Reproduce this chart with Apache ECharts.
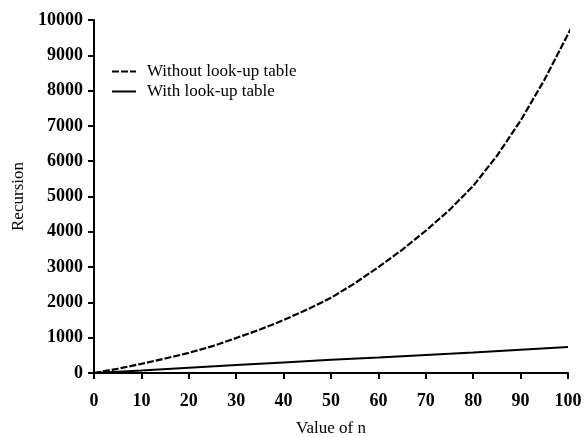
<!DOCTYPE html>
<html>
<head>
<meta charset="utf-8">
<script src="https://cdn.jsdelivr.net/npm/echarts@6/dist/echarts.min.js"></script>
<style>html,body{margin:0;padding:0;background:#fff}#c{width:587px;height:438px}</style>
</head>
<body>
<div id="c"></div>
<script>
var nWithout = [0, 5, 10, 15, 20, 25, 30, 35, 40, 45, 50, 55, 60, 65, 70, 75, 80, 85, 90, 95, 100, 102];
var valWithout = [0, 120, 260, 410, 570, 760, 990, 1230, 1500, 1800, 2130, 2540, 3000, 3490, 4030, 4620, 5300, 6150, 7150, 8300, 9600, 10100];
var nWith = [0, 10, 20, 30, 40, 50, 60, 70, 80, 90, 100];
var valWith = [0, 70, 150, 225, 300, 375, 440, 510, 580, 660, 737];
var seriesNames = ['Without look-up table', 'With look-up table'];
var xTitle = 'Value of n';
var yTitle = 'Recursion';

function pairs(xs, ys) { return xs.map(function (x, i) { return [x, ys[i]]; }); }

var font = 'Liberation Serif';
var chart = echarts.init(document.getElementById('c'));
chart.setOption({
  animation: false,
  backgroundColor: '#fff',
  grid: { left: 94, right: 19, top: 20, bottom: 65, containLabel: false, outerBoundsMode: 'none' },
  legend: {
    left: 106, top: 58, orient: 'vertical', itemWidth: 24, itemHeight: 14, itemGap: 3,
    itemStyle: { color: 'transparent', borderWidth: 0 },
    textStyle: { fontFamily: font, fontSize: 17, color: '#000', padding: [0, 0, 0, 6] },
    data: seriesNames
  },
  xAxis: {
    type: 'value', min: 0, max: 100, interval: 10,
    name: xTitle, nameLocation: 'middle', nameGap: 47,
    nameTextStyle: { fontFamily: font, fontSize: 17, color: '#000' },
    axisLine: { lineStyle: { color: '#000', width: 2 } },
    axisTick: { show: true, length: 6, lineStyle: { color: '#000', width: 2 } },
    axisLabel: { margin: 19, fontFamily: font, fontSize: 18, fontWeight: 'bold', color: '#000',
      formatter: function (v) { return String(v); } },
    splitLine: { show: false }
  },
  yAxis: {
    type: 'value', min: 0, max: 10000, interval: 1000,
    name: yTitle, nameLocation: 'middle', nameGap: 66,
    nameTextStyle: { fontFamily: font, fontSize: 17, color: '#000' },
    axisLine: { show: true, lineStyle: { color: '#000', width: 2 } },
    axisTick: { show: true, length: 6, lineStyle: { color: '#000', width: 2 } },
    axisLabel: { margin: 11, fontFamily: font, fontSize: 18, fontWeight: 'bold', color: '#000',
      formatter: function (v) { return String(v); } },
    splitLine: { show: false }
  },
  series: [
    {
      name: seriesNames[0], type: 'line', data: pairs(nWithout, valWithout),
      smooth: false, showSymbol: false, symbol: 'none', clip: false,
      lineStyle: { color: '#000', width: 2.2, type: [7, 2] }, itemStyle: { color: '#000' }
    },
    {
      name: seriesNames[1], type: 'line', data: pairs(nWith, valWith),
      smooth: false, showSymbol: false, symbol: 'none', clip: false,
      lineStyle: { color: '#000', width: 2 }, itemStyle: { color: '#000' }
    }
  ]
});
</script>
</body>
</html>
